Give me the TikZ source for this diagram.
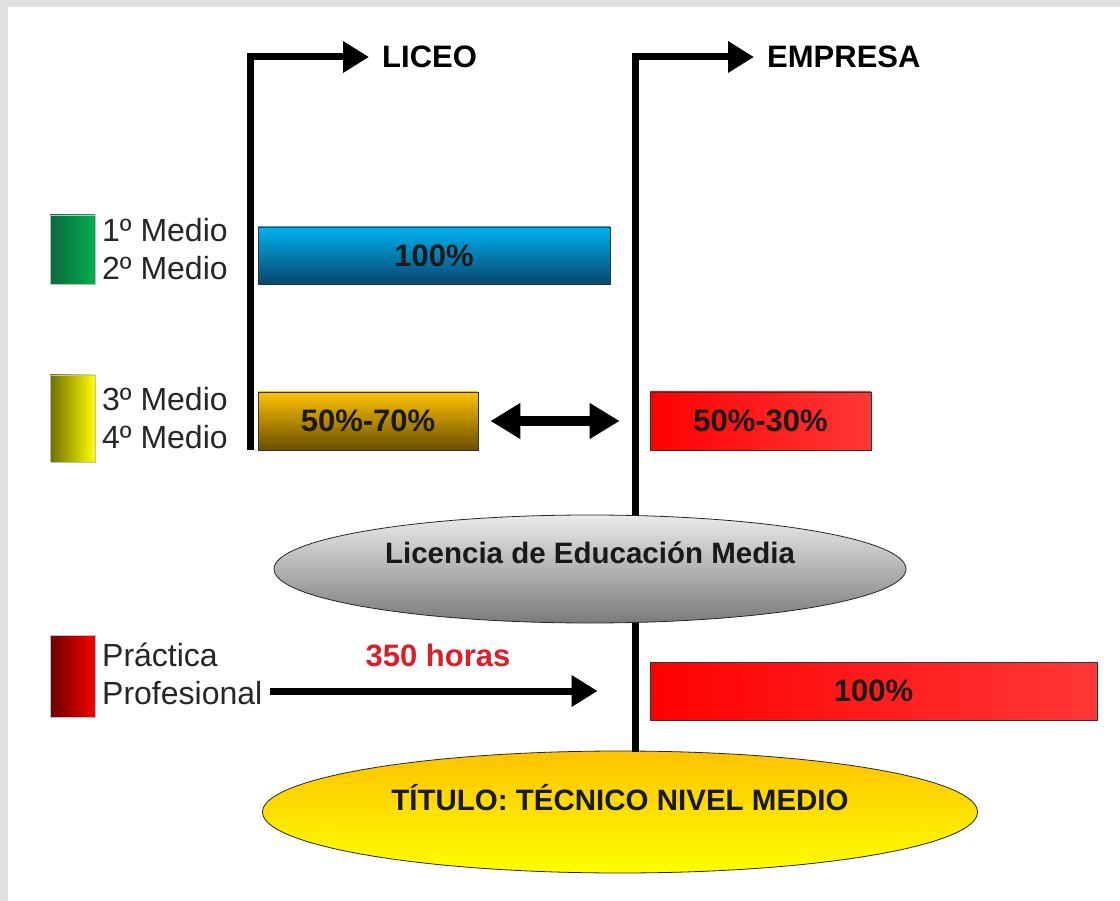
\documentclass[tikz,border=0pt]{standalone}
\usepackage{fontspec}
\setmainfont{Liberation Sans}
\usetikzlibrary{shapes.geometric, positioning, arrows.meta}

\definecolor{blueTop}{RGB}{0,178,240}
\definecolor{blueBot}{RGB}{10,70,110}
\definecolor{orgTop}{RGB}{255,194,0}
\definecolor{orgBot}{RGB}{105,78,0}
\definecolor{redL}{RGB}{255,0,0}
\definecolor{redR}{RGB}{255,55,55}
\definecolor{grnL}{RGB}{10,105,60}
\definecolor{grnR}{RGB}{0,176,80}
\definecolor{yelL}{RGB}{110,110,0}
\definecolor{yelR}{RGB}{255,255,0}
\definecolor{drkL}{RGB}{105,0,0}
\definecolor{drkR}{RGB}{250,0,0}
\definecolor{horasred}{RGB}{220,30,40}
\definecolor{frame}{RGB}{225,225,225}

\newcommand{\barfont}{\fontsize{31}{36}\selectfont\bfseries}
\newcommand{\ovalfont}{\fontsize{29.5}{34}\selectfont\bfseries}
\newcommand{\labfont}{\fontsize{32}{38}\selectfont}

\tikzset{
  bar/.style={draw=black!80, line width=0.8pt, inner sep=0pt, font=\barfont, text=black!90},
  swatch/.style={draw=black!25, line width=0.6pt, inner sep=0pt, minimum width=45pt},
  oval/.style={ellipse, draw=black!85, line width=0.8pt, inner sep=0pt, font=\ovalfont, text=black!90},
  lab/.style={anchor=west, align=left, inner sep=0pt, font=\labfont, text=black!85},
  head/.style={anchor=west, inner sep=0pt, font=\barfont},
  flow/.style={line width=7pt, -{Triangle[length=26pt,width=30pt]}},
  both/.style={line width=10pt, {Triangle[length=30pt,width=34pt]}-{Triangle[length=30pt,width=34pt]}},
}

\begin{document}
\begin{tikzpicture}[x=1pt, y=-1pt]
    \useasboundingbox (0,0) rectangle (1120,901);
    % slide frame
    \fill[frame] (0,0) rectangle (1120,901);
    \fill[white] (8,7) rectangle (1120,901);
    %
    \node[head] (liceo) at (382,57) {LICEO};
    \node[head] (empresa) at (767,57) {EMPRESA};
    %
    \node[bar, minimum width=352pt, minimum height=57pt, top color=blueTop, bottom color=blueBot] (basico) at (434,255.5) {100\%};
    \node[bar, minimum width=220pt, minimum height=58pt, top color=orgTop, bottom color=orgBot] (liceoB) at (368,421) {50\%-70\%};
    \node[bar, minimum width=221pt, minimum height=58pt, left color=redL, right color=redR] (empresaB) at (760.5,421) {50\%-30\%};
    \node[bar, minimum width=447pt, minimum height=58pt, left color=redL, right color=redR] (practicaB) at (873.5,691) {100\%};
    %
    \node[swatch, minimum height=69pt, left color=grnL, right color=grnR] (sw1) at (72.5,249.5) {};
    \node[swatch, minimum height=87pt, left color=yelL, right color=yelR] (sw2) at (72.5,418.5) {};
    \node[swatch, minimum height=82pt, left color=drkL, right color=drkR] (sw3) at (72.5,676) {};
    \node[lab] (m12) at (102,249) {1º Medio\\2º Medio};
    \node[lab] (m34) at (102,418) {3º Medio\\4º Medio};
    \node[lab] (prac) at (102,674) {Práctica\\Profesional};
    \node[font=\barfont, text=horasred, inner sep=0pt] (horas) at (438,655) {350 horas};
    %
    \node[oval, minimum width=715pt, minimum height=122pt, top color=orgTop, bottom color=yelR] (titulo) at (620,812) {\raisebox{30pt}{TÍTULO: TÉCNICO NIVEL MEDIO}};
    \coordinate (lbot) at (250,450);
    \coordinate (rbot) at (635,752);
    %
    \draw[flow] (lbot) |- ([xshift=-13pt]liceo.west);
    \draw[flow] (rbot) |- ([xshift=-13pt]empresa.west);
    \draw[both] ([xshift=12pt]liceoB.east) -- ([xshift=-30pt]empresaB.west);
    \draw[flow] ([xshift=8pt]prac.east |- practicaB.west) -- ([xshift=-52pt]practicaB.west);
    %
    \node[oval, minimum width=632pt, minimum height=108pt, top color=black!8, bottom color=black!52] (licencia) at (590,569) {\raisebox{32pt}{Licencia de Educación Media}};
\end{tikzpicture}
\end{document}
